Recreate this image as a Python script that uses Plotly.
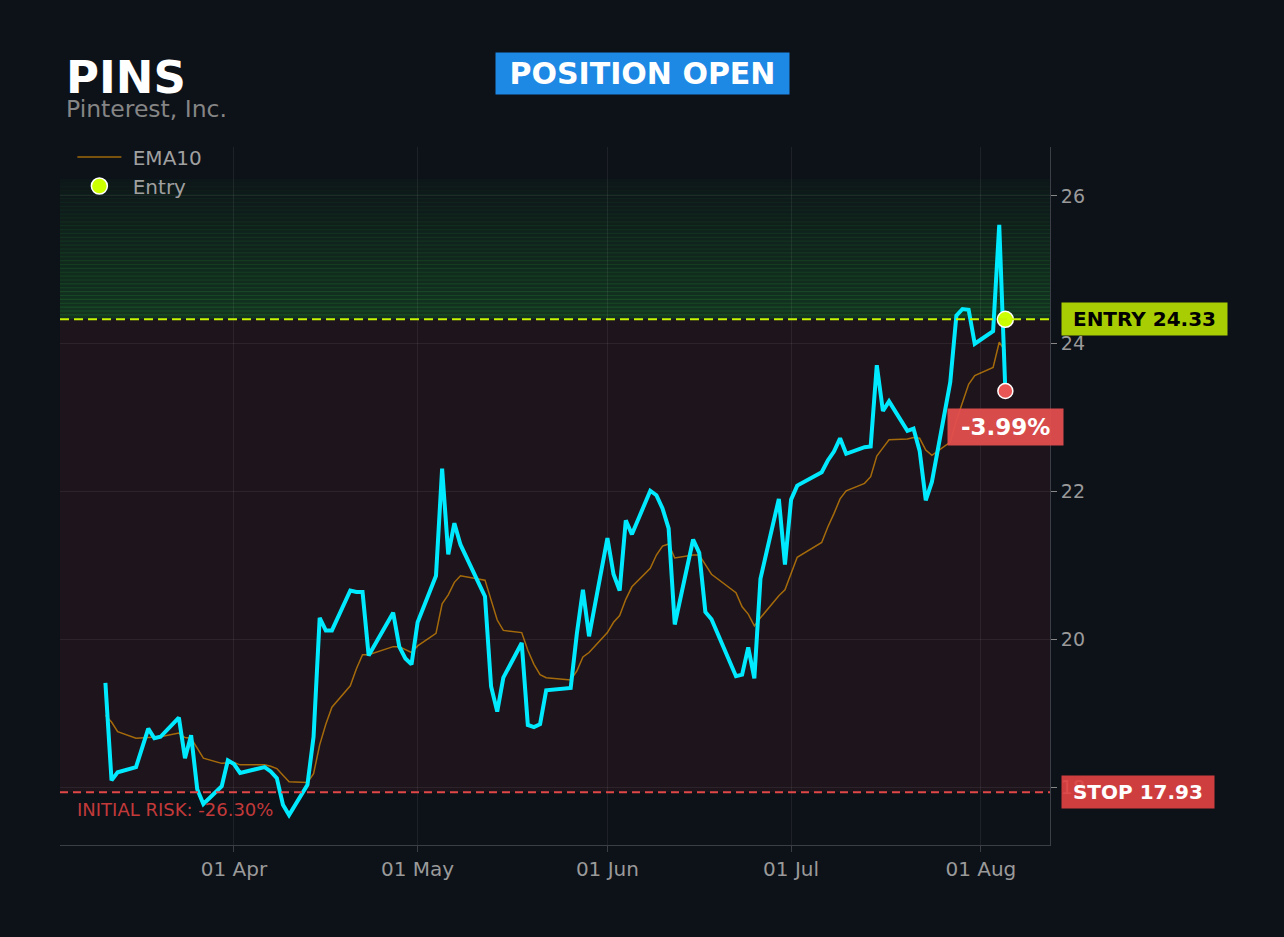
#!/usr/bin/env python3
"""
Position chart for PINS: price vs EMA10 with entry / stop levels
"""

import plotly.graph_objects as go

TICKER = "PINS"
COMPANY = "Pinterest, Inc."
STATUS = "POSITION OPEN"

ENTRY_PRICE = 24.33
STOP_PRICE = 17.93
TARGET_PRICE = 26.22
ENTRY_DATE = "2026-08-05"

# Daily closes (trading days)
dates = [
    "2026-03-11", "2026-03-12", "2026-03-13",
    "2026-03-16", "2026-03-18", "2026-03-19", "2026-03-20",
    "2026-03-23", "2026-03-24", "2026-03-25", "2026-03-26", "2026-03-27",
    "2026-03-30", "2026-03-31", "2026-04-01", "2026-04-02",
    "2026-04-06", "2026-04-07", "2026-04-08", "2026-04-09", "2026-04-10",
    "2026-04-13", "2026-04-14", "2026-04-15", "2026-04-16", "2026-04-17",
    "2026-04-20", "2026-04-21", "2026-04-22", "2026-04-23",
    "2026-04-27", "2026-04-28", "2026-04-29", "2026-04-30", "2026-05-01",
    "2026-05-04", "2026-05-05", "2026-05-06", "2026-05-07", "2026-05-08",
    "2026-05-12", "2026-05-13", "2026-05-14", "2026-05-15",
    "2026-05-18", "2026-05-19", "2026-05-20", "2026-05-21", "2026-05-22",
    "2026-05-26", "2026-05-27", "2026-05-28", "2026-05-29",
    "2026-06-01", "2026-06-02", "2026-06-03", "2026-06-04", "2026-06-05",
    "2026-06-08", "2026-06-09", "2026-06-10", "2026-06-11", "2026-06-12",
    "2026-06-15", "2026-06-16", "2026-06-17", "2026-06-18",
    "2026-06-22", "2026-06-23", "2026-06-24", "2026-06-25", "2026-06-26",
    "2026-06-29", "2026-06-30", "2026-07-01", "2026-07-02",
    "2026-07-06", "2026-07-07", "2026-07-08", "2026-07-09", "2026-07-10",
    "2026-07-13", "2026-07-14", "2026-07-15", "2026-07-16", "2026-07-17",
    "2026-07-20", "2026-07-21", "2026-07-22", "2026-07-23", "2026-07-24",
    "2026-07-27", "2026-07-28", "2026-07-29", "2026-07-30", "2026-07-31",
    "2026-08-03", "2026-08-04", "2026-08-05",
]

close = [
    19.41, 18.09, 18.20,
    18.27, 18.79, 18.66, 18.68,
    18.94, 18.39, 18.70, 17.97, 17.77,
    18.01, 18.36, 18.31, 18.19,
    18.27, 18.21, 18.12, 17.76, 17.62,
    18.03, 18.68, 20.29, 20.12, 20.12,
    20.66, 20.64, 20.64, 19.78,
    20.36, 19.90, 19.74, 19.66, 20.23,
    20.86, 22.31, 21.15, 21.57, 21.28,
    20.58, 19.36, 19.02, 19.48,
    19.95, 18.84, 18.81, 18.85, 19.31,
    19.34, 20.07, 20.67, 20.04,
    21.37, 20.88, 20.66, 21.61, 21.42,
    22.01, 21.95, 21.77, 21.50, 20.20,
    21.35, 21.17, 20.37, 20.27,
    19.50, 19.52, 19.89, 19.47, 20.82,
    21.90, 21.01, 21.89, 22.08,
    22.26, 22.42, 22.54, 22.72, 22.51,
    22.60, 22.61, 23.71, 23.09, 23.22,
    22.82, 22.85, 22.55, 21.88, 22.13,
    23.48, 24.38, 24.47, 24.46, 24.00,
    24.17, 25.61, 23.36,
]

ema10 = [
    18.97, 18.88, 18.75,
    18.66, 18.67, 18.67, 18.68,
    18.73, 18.67, 18.66, 18.53, 18.39,
    18.32, 18.33, 18.33, 18.30,
    18.30, 18.28, 18.25, 18.16, 18.07,
    18.06, 18.18, 18.57, 18.85, 19.08,
    19.37, 19.60, 19.79, 19.79,
    19.90, 19.90, 19.86, 19.82, 19.91,
    20.08, 20.48, 20.60, 20.77, 20.86,
    20.80, 20.54, 20.26, 20.12,
    20.09, 19.85, 19.66, 19.52, 19.48,
    19.45, 19.57, 19.76, 19.82,
    20.09, 20.23, 20.32, 20.54, 20.71,
    20.96, 21.14, 21.26, 21.29, 21.10,
    21.14, 21.14, 21.01, 20.88,
    20.63, 20.44, 20.34, 20.18, 20.29,
    20.59, 20.67, 20.89, 21.11,
    21.31, 21.52, 21.70, 21.90, 22.01,
    22.11, 22.20, 22.48, 22.59, 22.70,
    22.71, 22.73, 22.72, 22.56, 22.49,
    22.67, 22.96, 23.20, 23.45, 23.57,
    23.68, 24.02, 23.90,
]

BG = "#0d1118"
GRID = "rgba(255,255,255,0.07)"
AXIS = "#3b3e46"
FONT = "DejaVu Sans"
CYAN = "#00eaff"
LIME = "#c8f500"
RED = "#e04848"
NB = "\u00a0"


def build_figure():
    """Price line, EMA, entry/exit markers and level zones"""
    last_price = close[-1]
    pnl = (last_price - ENTRY_PRICE) / ENTRY_PRICE * 100
    risk = (STOP_PRICE - ENTRY_PRICE) / ENTRY_PRICE * 100

    fig = go.Figure()

    fig.add_trace(go.Scatter(
        x=dates, y=ema10, mode="lines", name=NB + "EMA10",
        line=dict(color="rgba(255,165,0,0.6)", width=1.5),
    ))
    fig.add_trace(go.Scatter(
        x=dates, y=close, mode="lines", name="Price", showlegend=False,
        line=dict(color=CYAN, width=4),
    ))
    fig.add_trace(go.Scatter(
        x=[ENTRY_DATE], y=[ENTRY_PRICE], mode="markers", name=NB + "Entry",
        marker=dict(size=16, color="#ccff00", line=dict(color="white", width=1.5)),
    ))
    fig.add_trace(go.Scatter(
        x=[dates[-1]], y=[last_price], mode="markers", name="Now", showlegend=False,
        marker=dict(size=15, color="#e85555", line=dict(color="white", width=1.5)),
    ))

    # Risk zone between stop and entry
    fig.add_shape(type="rect", xref="paper", x0=0, x1=1, y0=STOP_PRICE, y1=ENTRY_PRICE,
                  fillcolor="rgba(239,68,68,0.08)", line_width=0, layer="below")

    # Profit zone: stacked bands fading upward
    n_bands = 36
    step = (TARGET_PRICE - ENTRY_PRICE) / n_bands
    for i in range(n_bands):
        alpha = 0.03 + 0.2 * (1 - i / n_bands)
        fig.add_shape(type="rect", xref="paper", x0=0, x1=1,
                      y0=ENTRY_PRICE + i * step, y1=ENTRY_PRICE + (i + 1) * step + step * 0.3,
                      fillcolor=f"rgba(40,170,60,{alpha:.3f})", line_width=0, layer="below")

    # Entry and stop levels
    fig.add_hline(y=ENTRY_PRICE, line=dict(color=LIME, width=2, dash="9px,5px"))
    fig.add_hline(y=STOP_PRICE, line=dict(color=RED, width=2, dash="8px,5px"))

    nb = "&nbsp;"
    annotations = [
        dict(text=f"<b>{TICKER}</b>", xref="paper", yref="paper", x=0.004, y=1.1,
             xanchor="left", yanchor="middle", showarrow=False,
             font=dict(size=45, color="white", family=FONT)),
        dict(text=COMPANY, xref="paper", yref="paper", x=0.004, y=1.055,
             xanchor="left", yanchor="middle", showarrow=False,
             font=dict(size=23.5, color="#858585", family=FONT)),
        dict(text=f"<b>{nb}{STATUS}{nb}</b>", xref="paper", yref="paper", x=0.588, y=1.1053,
             xanchor="center", yanchor="middle", showarrow=False, bgcolor="#1e88e5", borderpad=3,
             font=dict(size=30, color="white", family=FONT)),
        dict(text=f"<b>{nb}ENTRY {ENTRY_PRICE:.2f}{nb}</b>", xref="paper", x=1, xshift=11,
             y=ENTRY_PRICE, xanchor="left", yanchor="middle", showarrow=False,
             bgcolor="rgba(190,232,0,0.88)", borderpad=4,
             font=dict(size=20, color="black", family=FONT)),
        dict(text=f"<b>{nb}STOP {STOP_PRICE:.2f}{nb}</b>", xref="paper", x=1, xshift=11,
             y=STOP_PRICE, xanchor="left", yanchor="middle", showarrow=False,
             bgcolor="rgba(228,68,68,0.9)", borderpad=4,
             font=dict(size=20, color="white", family=FONT)),
        dict(text=f"<b>{nb}{pnl:.2f}%{nb}</b>", x=dates[-1], y=last_price, yshift=-36,
             xanchor="center", yanchor="middle", showarrow=False,
             bgcolor="rgba(225,78,78,0.95)", borderpad=5,
             font=dict(size=23, color="white", family=FONT)),
        dict(text=f"INITIAL RISK: {risk:.2f}%", xref="paper", x=0.015, y=STOP_PRICE, yshift=-17,
             xanchor="left", yanchor="middle", showarrow=False,
             font=dict(size=18, color="#c23a3a", family=FONT)),
    ]

    fig.update_layout(
        width=1284, height=937,
        paper_bgcolor=BG, plot_bgcolor=BG,
        margin=dict(l=60, r=234, t=147, b=92),
        font=dict(family=FONT, color="#9a9a9a", size=19),
        showlegend=True,
        legend=dict(x=0.0125, y=1.0136, xanchor="left", yanchor="top",
                    bgcolor="rgba(0,0,0,0)", font=dict(size=20, color="#a0a0a0"),
                    itemwidth=44, tracegroupgap=0),
        annotations=annotations,
        hovermode=False,
    )
    fig.update_xaxes(
        range=["2026-03-03 14:00", "2026-08-12 07:00"],
        tick0="2026-04-01", dtick="M1", tickformat="%d %b",
        showgrid=True, gridcolor=GRID, zeroline=False,
        showline=True, linecolor=AXIS, linewidth=1,
        ticks="outside", ticklen=6, tickcolor=AXIS,
        tickfont=dict(size=20, color="#9a9a9a"),
    )
    fig.update_yaxes(
        range=[17.215, 26.663], side="right", dtick=2,
        showgrid=True, gridcolor=GRID, zeroline=False,
        showline=True, linecolor=AXIS, linewidth=1,
        ticks="outside", ticklen=6, tickcolor="#888",
        tickfont=dict(size=19, color="#9a9a9a"),
    )
    return fig


def main():
    fig = build_figure()
    # drop the default page margin so the figure sits at the window corner
    fig.write_html("out.html", config={"displayModeBar": False},
                   post_script="document.body.style.margin='0';"
                               "document.body.style.background='#0d1118';")


if __name__ == "__main__":
    main()
